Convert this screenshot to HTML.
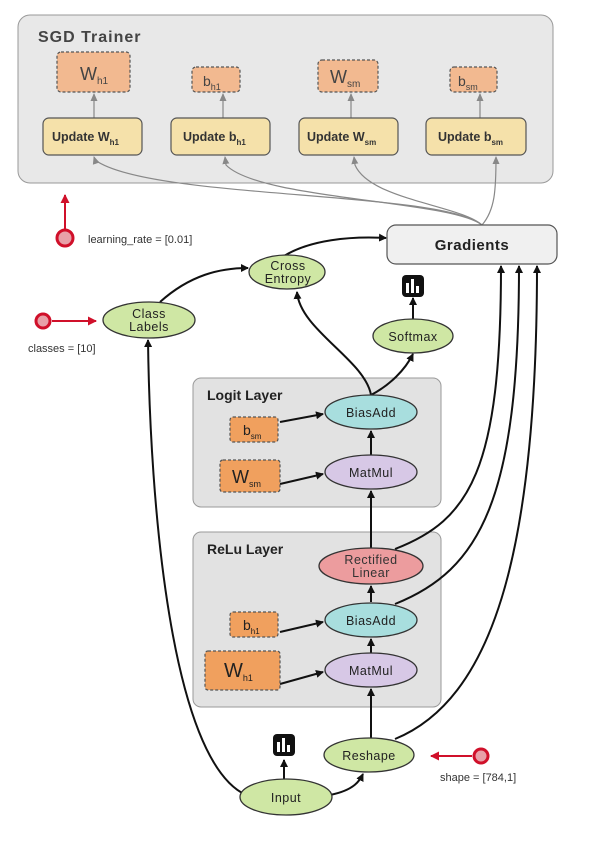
<!DOCTYPE html>
<html><head><meta charset="utf-8"><style>body{margin:0;background:#fff}svg{display:block}text{font-family:"Liberation Sans",sans-serif}</style></head><body>
<svg width="602" height="845" viewBox="0 0 602 845" xmlns="http://www.w3.org/2000/svg">
<defs>
<marker id="a" markerWidth="8" markerHeight="8" refX="7" refY="4" orient="auto" markerUnits="userSpaceOnUse"><path d="M0,0L8,4L0,8z" fill="#111"/></marker>
<marker id="g" markerWidth="8" markerHeight="8" refX="7" refY="4" orient="auto" markerUnits="userSpaceOnUse"><path d="M0,0.5L8,4L0,7.5z" fill="#888"/></marker>
<marker id="r" markerWidth="9" markerHeight="9" refX="8" refY="4.5" orient="auto" markerUnits="userSpaceOnUse"><path d="M0,0L9,4.5L0,9z" fill="#d0102a"/></marker>
</defs>
<!-- SGD -->
<rect x="18" y="15" width="535" height="168" rx="12" fill="#e8e8e8" stroke="#999"/>
<text x="38" y="42" font-size="16" font-weight="bold" fill="#444" letter-spacing="1">SGD Trainer</text>
<g fill="#f2b990" stroke="#555" stroke-dasharray="3,2" stroke-width="1.2">
<rect x="57" y="52" width="73" height="40" rx="4"/>
<rect x="192" y="67" width="48" height="25" rx="4"/>
<rect x="318" y="60" width="60" height="32" rx="4"/>
<rect x="450" y="67" width="47" height="25" rx="4"/>
</g>
<g fill="#444">
<text x="80" y="80" font-size="18">W<tspan font-size="10" dy="4">h1</tspan></text>
<text x="203" y="86" font-size="14">b<tspan font-size="9" dy="4">h1</tspan></text>
<text x="330" y="83" font-size="18">W<tspan font-size="10" dy="4">sm</tspan></text>
<text x="458" y="86" font-size="14">b<tspan font-size="9" dy="4">sm</tspan></text>
</g>
<g stroke="#888" stroke-width="1.2" fill="none" marker-end="url(#g)">
<line x1="94" y1="118" x2="94" y2="94"/><line x1="223" y1="118" x2="223" y2="94"/><line x1="351" y1="118" x2="351" y2="94"/><line x1="480" y1="118" x2="480" y2="94"/>
<path d="M482,225 C440,190 150,200 95,160 L94,157"/>
<path d="M482,225 C450,200 260,200 226,165 L225,157"/>
<path d="M482,225 C460,205 370,200 355,165 L354,157"/>
<path d="M482,225 C495,210 496,190 496,157"/>
</g>
<g fill="#f5e1aa" stroke="#555" stroke-width="1.2">
<rect x="43" y="118" width="99" height="37" rx="6"/><rect x="171" y="118" width="99" height="37" rx="6"/><rect x="299" y="118" width="99" height="37" rx="6"/><rect x="426" y="118" width="100" height="37" rx="6"/>
</g>
<g font-size="12.5" font-weight="bold" fill="#333">
<text x="52" y="141">Update W<tspan font-size="8" dy="4">h1</tspan></text>
<text x="183" y="141">Update b<tspan font-size="8" dy="4">h1</tspan></text>
<text x="307" y="141">Update W<tspan font-size="8" dy="4">sm</tspan></text>
<text x="438" y="141">Update b<tspan font-size="8" dy="4">sm</tspan></text>
</g>
<!-- learning rate -->
<line x1="65" y1="230" x2="65" y2="195" stroke="#d0102a" stroke-width="2" marker-end="url(#r)"/>
<circle cx="65" cy="238" r="8" fill="#e8a0a8" stroke="#d0102a" stroke-width="3"/>
<text x="88" y="243" font-size="11" fill="#333">learning_rate = [0.01]</text>
<!-- Gradients -->
<rect x="387" y="225" width="170" height="39" rx="9" fill="#f0f0f0" stroke="#555" stroke-width="1.2"/>
<text x="472" y="250" font-size="15" font-weight="bold" fill="#222" text-anchor="middle" letter-spacing="0.5">Gradients</text>
<!-- Layer boxes -->
<rect x="193" y="378" width="248" height="129" rx="8" fill="#e2e2e2" stroke="#999"/>
<text x="207" y="400" font-size="14" font-weight="bold" fill="#222">Logit Layer</text>
<rect x="193" y="532" width="248" height="175" rx="8" fill="#e2e2e2" stroke="#999"/>
<text x="207" y="554" font-size="14" font-weight="bold" fill="#222">ReLu Layer</text>
<!-- edges -->
<g stroke="#111" stroke-width="2" fill="none" marker-end="url(#a)">
<path d="M284,256 C310,240 350,236 386,238"/>
<path d="M160,302 C190,275 220,268 248,268"/>
<path d="M371,395 C365,360 300,330 297,292"/>
<path d="M371,395 C390,385 405,370 413,354"/>
<line x1="413" y1="319" x2="413" y2="298"/>
<line x1="371" y1="455" x2="371" y2="431"/>
<line x1="371" y1="548" x2="371" y2="491"/>
<line x1="371" y1="602" x2="371" y2="586"/>
<line x1="371" y1="653" x2="371" y2="639"/>
<line x1="371" y1="738" x2="371" y2="689"/>
<path d="M280,422 L323,414"/><path d="M280,484 L323,474"/>
<path d="M280,632 L323,622"/><path d="M280,684 L323,672"/>
<path d="M246,795 C170,760 150,500 148,340"/>
<path d="M330,795 C355,790 360,780 363,774"/>
<line x1="284" y1="780" x2="284" y2="760"/>
<path d="M395,549 C470,520 501,470 501,266"/>
<path d="M395,604 C480,570 519,500 519,266"/>
<path d="M395,739 C490,700 537,560 537,266"/>
</g>
<!-- ellipses -->
<g stroke="#333" stroke-width="1.3">
<ellipse cx="287" cy="272" rx="38" ry="17" fill="#cfe7a4"/>
<ellipse cx="149" cy="320" rx="46" ry="18" fill="#cfe7a4"/>
<ellipse cx="413" cy="336" rx="40" ry="17" fill="#cfe7a4"/>
<ellipse cx="371" cy="412" rx="46" ry="17" fill="#a8dede"/>
<ellipse cx="371" cy="472" rx="46" ry="17" fill="#d7c8e6"/>
<ellipse cx="371" cy="566" rx="52" ry="18" fill="#ec9c9e"/>
<ellipse cx="371" cy="620" rx="46" ry="17" fill="#a8dede"/>
<ellipse cx="371" cy="670" rx="46" ry="17" fill="#d7c8e6"/>
<ellipse cx="369" cy="755" rx="45" ry="17" fill="#cfe7a4"/>
<ellipse cx="286" cy="797" rx="46" ry="18" fill="#cfe7a4"/>
</g>
<g font-size="12.5" fill="#222" text-anchor="middle" letter-spacing="0.5">
<text x="288" y="270">Cross</text><text x="288" y="283">Entropy</text>
<text x="149" y="318">Class</text><text x="149" y="331">Labels</text>
<text x="413" y="341">Softmax</text>
<text x="371" y="417">BiasAdd</text>
<text x="371" y="477">MatMul</text>
<text x="371" y="564" fill="#333">Rectified</text><text x="371" y="577" fill="#333">Linear</text>
<text x="371" y="625">BiasAdd</text>
<text x="371" y="675">MatMul</text>
<text x="369" y="760">Reshape</text>
<text x="286" y="802">Input</text>
</g>
<!-- small variable boxes -->
<g fill="#f0a05e" stroke="#555" stroke-dasharray="3,2" stroke-width="1.2">
<rect x="230" y="417" width="48" height="25" rx="3"/>
<rect x="220" y="460" width="60" height="32" rx="3"/>
<rect x="230" y="612" width="48" height="25" rx="3"/>
<rect x="205" y="651" width="75" height="39" rx="3"/>
</g>
<g fill="#222">
<text x="243" y="435" font-size="14">b<tspan font-size="8" dy="4">sm</tspan></text>
<text x="232" y="483" font-size="18">W<tspan font-size="9" dy="4">sm</tspan></text>
<text x="243" y="630" font-size="14">b<tspan font-size="8" dy="4">h1</tspan></text>
<text x="224" y="677" font-size="20">W<tspan font-size="9" dy="4">h1</tspan></text>
</g>
<!-- chart icons -->
<g>
<rect x="402" y="275" width="22" height="22" rx="4" fill="#111"/>
<rect x="406" y="283" width="3" height="10" fill="#fff"/><rect x="411" y="279" width="3" height="14" fill="#fff"/><rect x="416" y="286" width="3" height="7" fill="#fff"/>
<rect x="273" y="734" width="22" height="22" rx="4" fill="#111"/>
<rect x="277" y="742" width="3" height="10" fill="#fff"/><rect x="282" y="738" width="3" height="14" fill="#fff"/><rect x="287" y="745" width="3" height="7" fill="#fff"/>
</g>
<!-- classes -->
<line x1="52" y1="321" x2="96" y2="321" stroke="#d0102a" stroke-width="2" marker-end="url(#r)"/>
<circle cx="43" cy="321" r="7" fill="#e8a0a8" stroke="#d0102a" stroke-width="3"/>
<text x="28" y="352" font-size="11" fill="#333">classes = [10]</text>
<!-- shape -->
<line x1="472" y1="756" x2="431" y2="756" stroke="#d0102a" stroke-width="2" marker-end="url(#r)"/>
<circle cx="481" cy="756" r="7" fill="#e8a0a8" stroke="#d0102a" stroke-width="3"/>
<text x="440" y="781" font-size="11" fill="#333">shape = [784,1]</text>
</svg>
</body></html>
